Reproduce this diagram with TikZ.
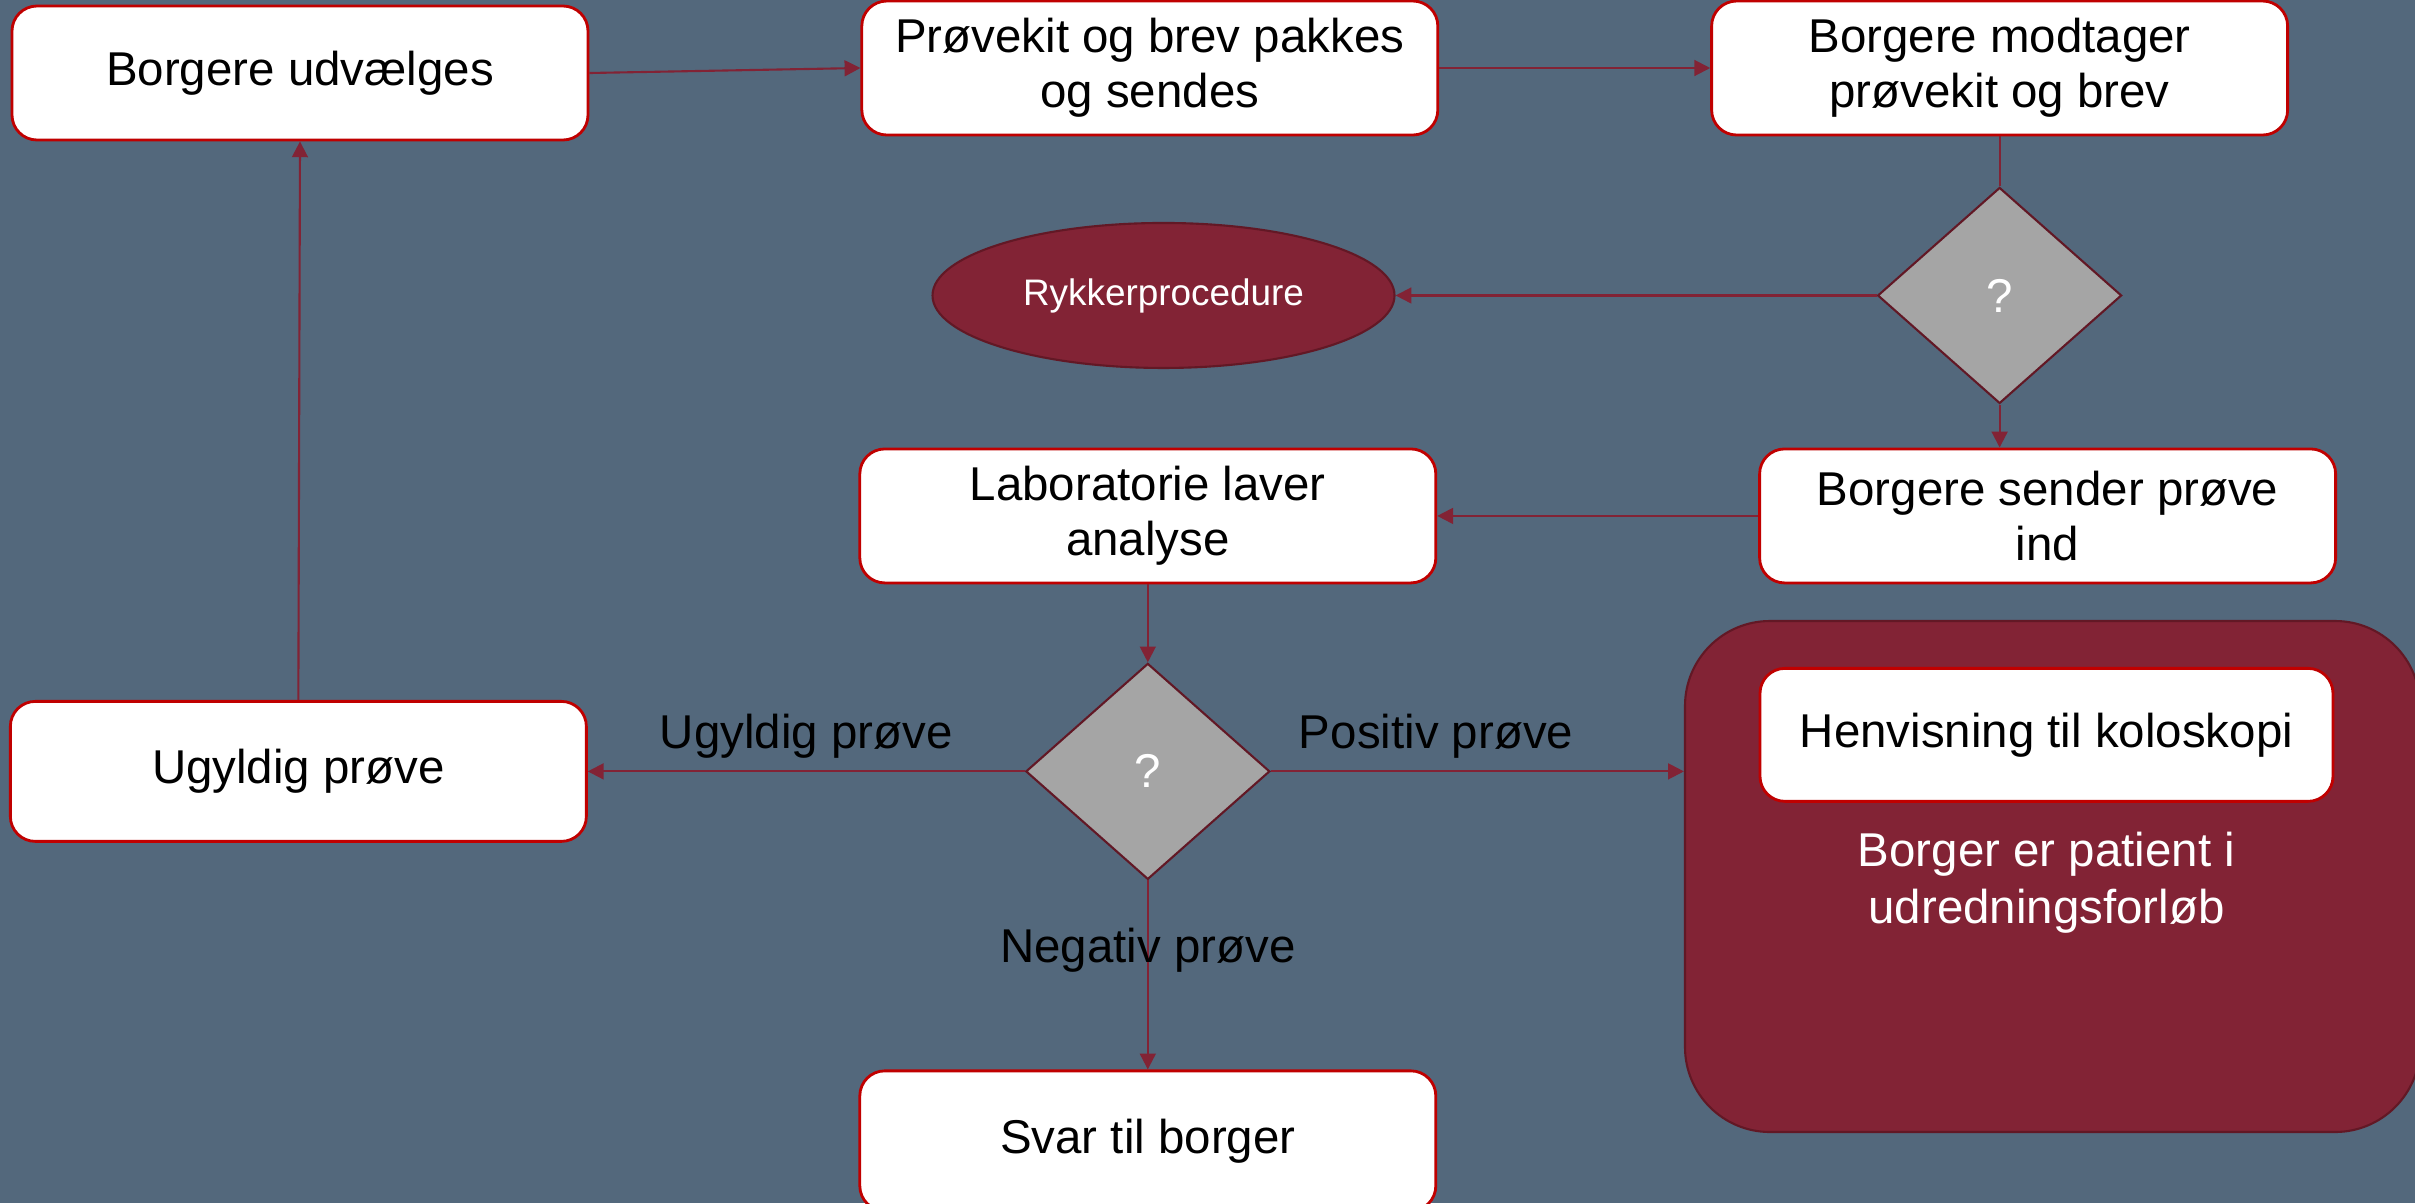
\documentclass[tikz,border=0pt]{standalone}
\usepackage{fontspec}
\setmainfont{Liberation Sans}
\usetikzlibrary{arrows.meta, positioning, shapes.geometric}

\definecolor{slate}{RGB}{83,104,124}
\definecolor{wine}{RGB}{130,35,53}
\definecolor{winedark}{RGB}{98,24,37}
\definecolor{boxred}{RGB}{192,0,0}
\definecolor{decgray}{RGB}{165,165,165}

\begin{document}
\begin{tikzpicture}[
    stepbox/.style={draw=boxred, line width=0.8pt, fill=white, rounded corners=0.25cm, minimum width=5.76cm, minimum height=1.34cm, align=center, font=\fontsize{13.5}{15.7}\selectfont},
    decision/.style={diamond, draw=winedark, line width=0.6pt, fill=decgray, minimum width=2.44cm, minimum height=2.16cm, inner sep=0pt, text=white, font=\fontsize{13.5}{15.7}\selectfont},
    flow/.style={-{Triangle[length=4.5pt, width=4.5pt]}, draw=wine, line width=0.6pt},
    flowlabel/.style={font=\fontsize{13.5}{15.7}\selectfont},
    node distance=1.2cm
]
    % Background
    \fill[slate] (0,0) rectangle (24.15,-12.03);
    \useasboundingbox (0,0) rectangle (24.15,-12.03);

    % Top row
    \node[stepbox] (select) at (3.00,-0.73) {Borgere udvælges};
    \node[stepbox, right=2.71cm of select, yshift=0.05cm] (pack) {Prøvekit og brev pakkes\\og sendes};
    \node[stepbox, right=2.71cm of pack] (receive) {Borgere modtager\\prøvekit og brev};

    % First decision
    \node[decision, below=0.50cm of receive] (check) {?};
    \node[ellipse, draw=winedark, line width=0.6pt, fill=wine, text=white, minimum width=4.62cm, minimum height=1.45cm, font=\fontsize{10.5}{12}\selectfont, left=4.81cm of check] (remind) {Rykkerprocedure};

    % Middle row
    \node[stepbox, below=0.43cm of check, xshift=0.48cm] (send) {Borgere sender prøve\\ind};
    \node[stepbox, left=3.21cm of send] (lab) {Laboratorie laver\\analyse};

    % Second decision
    \node[decision, below=0.78cm of lab] (result) {?};
    \node[stepbox, minimum height=1.40cm, left=4.37cm of result] (invalid) {Ugyldig prøve};
    \node[stepbox, minimum height=1.40cm, below=1.89cm of result] (answer) {Svar til borger};

    % Patient pathway
    \node[draw=winedark, line width=0.6pt, fill=wine, rounded corners=0.85cm, minimum width=7.35cm, minimum height=5.11cm] (pathway) at (20.525,-8.765) {};
    \node[stepbox, minimum width=5.73cm, minimum height=1.33cm, below=0.47cm of pathway.north, xshift=-0.06cm] (colo) {Henvisning til koloskopi};
    \node[below=0.17cm of colo, align=center, text=white, font=\fontsize{13.5}{16.2}\selectfont] (patient) {Borger er patient i\\udredningsforløb};

    % Connectors
    \draw[flow] (select.east) -- (pack.west);
    \draw[flow] (pack.east) -- (receive.west);
    \draw[draw=wine, line width=0.6pt] (receive.south) -- (check.north);
    \draw[flow] (check.west) -- (remind.east);
    \draw[flow] (check.south) -- (check.south |- send.north);
    \draw[flow] (send.west) -- (lab.east);
    \draw[flow] (lab.south) -- (result.north);
    \draw[flow] (result.west) -- node[flowlabel, above]{Ugyldig prøve} (invalid.east);
    \draw[flow] (result.east) -- node[flowlabel, above, pos=0.4]{Positiv prøve} (result.east -| pathway.west);
    \draw[flow] (result.south) -- node[flowlabel, pos=0.37]{Negativ prøve} (answer.north);
    \draw[flow] (invalid.north) -- (select.south);
\end{tikzpicture}
\end{document}
